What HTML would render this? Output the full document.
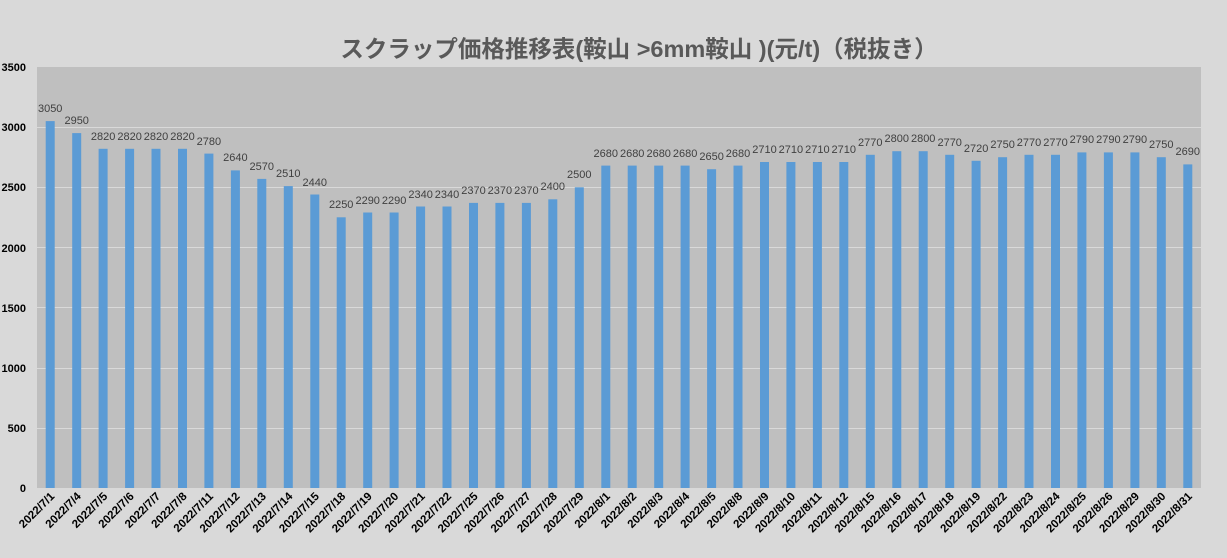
<!DOCTYPE html>
<html><head><meta charset="utf-8"><style>
html,body{margin:0;padding:0;background:#d9d9d9;}
svg{display:block;font-family:"Liberation Sans","Noto Sans CJK JP",sans-serif;}
.v{font-size:11px;fill:#404040;text-anchor:middle;}
.d{font-size:11.5px;font-weight:bold;fill:#000;text-anchor:end;}
.y{font-size:11px;font-weight:bold;fill:#000;text-anchor:end;}
</style></head><body>
<svg width="1227" height="558" viewBox="0 0 1227 558">
<rect width="1227" height="558" fill="#d9d9d9"/>
<text x="639" y="57" text-anchor="middle" font-size="23.5" font-weight="bold" fill="#595959" font-family="'Liberation Sans','Noto Sans CJK JP',sans-serif">スクラップ価格推移表(鞍山 &gt;6mm鞍山 )(元/t)（税抜き）</text>
<rect x="37" y="67" width="1164" height="421" fill="#bfbfbf"/>
<g stroke="#d9d9d9" stroke-width="1">
<line x1="37" x2="1201" y1="127.5" y2="127.5"/><line x1="37" x2="1201" y1="187.5" y2="187.5"/><line x1="37" x2="1201" y1="247.5" y2="247.5"/><line x1="37" x2="1201" y1="307.5" y2="307.5"/><line x1="37" x2="1201" y1="368.5" y2="368.5"/><line x1="37" x2="1201" y1="428.5" y2="428.5"/>
</g>
<g class="y">
<text x="26" y="71" class="y">3500</text><text x="26" y="131" class="y">3000</text><text x="26" y="191" class="y">2500</text><text x="26" y="252" class="y">2000</text><text x="26" y="312" class="y">1500</text><text x="26" y="372" class="y">1000</text><text x="26" y="432" class="y">500</text><text x="26" y="492" class="y">0</text>
</g>
<g fill="#5b9bd5">
<rect x="45.7" y="121.1" width="9" height="366.9"/>
<rect x="72.2" y="133.1" width="9" height="354.9"/>
<rect x="98.6" y="148.8" width="9" height="339.2"/>
<rect x="125.1" y="148.8" width="9" height="339.2"/>
<rect x="151.5" y="148.8" width="9" height="339.2"/>
<rect x="178.0" y="148.8" width="9" height="339.2"/>
<rect x="204.4" y="153.6" width="9" height="334.4"/>
<rect x="230.9" y="170.4" width="9" height="317.6"/>
<rect x="257.3" y="178.9" width="9" height="309.1"/>
<rect x="283.8" y="186.1" width="9" height="301.9"/>
<rect x="310.3" y="194.5" width="9" height="293.5"/>
<rect x="336.7" y="217.3" width="9" height="270.7"/>
<rect x="363.2" y="212.5" width="9" height="275.5"/>
<rect x="389.6" y="212.5" width="9" height="275.5"/>
<rect x="416.1" y="206.5" width="9" height="281.5"/>
<rect x="442.5" y="206.5" width="9" height="281.5"/>
<rect x="469.0" y="202.9" width="9" height="285.1"/>
<rect x="495.4" y="202.9" width="9" height="285.1"/>
<rect x="521.9" y="202.9" width="9" height="285.1"/>
<rect x="548.3" y="199.3" width="9" height="288.7"/>
<rect x="574.8" y="187.3" width="9" height="300.7"/>
<rect x="601.3" y="165.6" width="9" height="322.4"/>
<rect x="627.7" y="165.6" width="9" height="322.4"/>
<rect x="654.2" y="165.6" width="9" height="322.4"/>
<rect x="680.6" y="165.6" width="9" height="322.4"/>
<rect x="707.1" y="169.2" width="9" height="318.8"/>
<rect x="733.5" y="165.6" width="9" height="322.4"/>
<rect x="760.0" y="162.0" width="9" height="326.0"/>
<rect x="786.4" y="162.0" width="9" height="326.0"/>
<rect x="812.9" y="162.0" width="9" height="326.0"/>
<rect x="839.3" y="162.0" width="9" height="326.0"/>
<rect x="865.8" y="154.8" width="9" height="333.2"/>
<rect x="892.3" y="151.2" width="9" height="336.8"/>
<rect x="918.7" y="151.2" width="9" height="336.8"/>
<rect x="945.2" y="154.8" width="9" height="333.2"/>
<rect x="971.6" y="160.8" width="9" height="327.2"/>
<rect x="998.1" y="157.2" width="9" height="330.8"/>
<rect x="1024.5" y="154.8" width="9" height="333.2"/>
<rect x="1051.0" y="154.8" width="9" height="333.2"/>
<rect x="1077.4" y="152.4" width="9" height="335.6"/>
<rect x="1103.9" y="152.4" width="9" height="335.6"/>
<rect x="1130.4" y="152.4" width="9" height="335.6"/>
<rect x="1156.8" y="157.2" width="9" height="330.8"/>
<rect x="1183.3" y="164.4" width="9" height="323.6"/>
</g>
<g>
<text class="v" x="50.2" y="112">3050</text>
<text class="v" x="76.7" y="124">2950</text>
<text class="v" x="103.1" y="140">2820</text>
<text class="v" x="129.6" y="140">2820</text>
<text class="v" x="156.0" y="140">2820</text>
<text class="v" x="182.5" y="140">2820</text>
<text class="v" x="208.9" y="145">2780</text>
<text class="v" x="235.4" y="161">2640</text>
<text class="v" x="261.8" y="170">2570</text>
<text class="v" x="288.3" y="177">2510</text>
<text class="v" x="314.8" y="186">2440</text>
<text class="v" x="341.2" y="208">2250</text>
<text class="v" x="367.7" y="204">2290</text>
<text class="v" x="394.1" y="204">2290</text>
<text class="v" x="420.6" y="198">2340</text>
<text class="v" x="447.0" y="198">2340</text>
<text class="v" x="473.5" y="194">2370</text>
<text class="v" x="499.9" y="194">2370</text>
<text class="v" x="526.4" y="194">2370</text>
<text class="v" x="552.8" y="190">2400</text>
<text class="v" x="579.3" y="178">2500</text>
<text class="v" x="605.8" y="157">2680</text>
<text class="v" x="632.2" y="157">2680</text>
<text class="v" x="658.7" y="157">2680</text>
<text class="v" x="685.1" y="157">2680</text>
<text class="v" x="711.6" y="160">2650</text>
<text class="v" x="738.0" y="157">2680</text>
<text class="v" x="764.5" y="153">2710</text>
<text class="v" x="790.9" y="153">2710</text>
<text class="v" x="817.4" y="153">2710</text>
<text class="v" x="843.8" y="153">2710</text>
<text class="v" x="870.3" y="146">2770</text>
<text class="v" x="896.8" y="142">2800</text>
<text class="v" x="923.2" y="142">2800</text>
<text class="v" x="949.7" y="146">2770</text>
<text class="v" x="976.1" y="152">2720</text>
<text class="v" x="1002.6" y="148">2750</text>
<text class="v" x="1029.0" y="146">2770</text>
<text class="v" x="1055.5" y="146">2770</text>
<text class="v" x="1081.9" y="143">2790</text>
<text class="v" x="1108.4" y="143">2790</text>
<text class="v" x="1134.9" y="143">2790</text>
<text class="v" x="1161.3" y="148">2750</text>
<text class="v" x="1187.8" y="155">2690</text>
</g>
<g>
<text class="d" transform="translate(55.2,497) rotate(-45)">2022/7/1</text>
<text class="d" transform="translate(81.7,497) rotate(-45)">2022/7/4</text>
<text class="d" transform="translate(108.1,497) rotate(-45)">2022/7/5</text>
<text class="d" transform="translate(134.6,497) rotate(-45)">2022/7/6</text>
<text class="d" transform="translate(161.0,497) rotate(-45)">2022/7/7</text>
<text class="d" transform="translate(187.5,497) rotate(-45)">2022/7/8</text>
<text class="d" transform="translate(213.9,497) rotate(-45)">2022/7/11</text>
<text class="d" transform="translate(240.4,497) rotate(-45)">2022/7/12</text>
<text class="d" transform="translate(266.8,497) rotate(-45)">2022/7/13</text>
<text class="d" transform="translate(293.3,497) rotate(-45)">2022/7/14</text>
<text class="d" transform="translate(319.8,497) rotate(-45)">2022/7/15</text>
<text class="d" transform="translate(346.2,497) rotate(-45)">2022/7/18</text>
<text class="d" transform="translate(372.7,497) rotate(-45)">2022/7/19</text>
<text class="d" transform="translate(399.1,497) rotate(-45)">2022/7/20</text>
<text class="d" transform="translate(425.6,497) rotate(-45)">2022/7/21</text>
<text class="d" transform="translate(452.0,497) rotate(-45)">2022/7/22</text>
<text class="d" transform="translate(478.5,497) rotate(-45)">2022/7/25</text>
<text class="d" transform="translate(504.9,497) rotate(-45)">2022/7/26</text>
<text class="d" transform="translate(531.4,497) rotate(-45)">2022/7/27</text>
<text class="d" transform="translate(557.8,497) rotate(-45)">2022/7/28</text>
<text class="d" transform="translate(584.3,497) rotate(-45)">2022/7/29</text>
<text class="d" transform="translate(610.8,497) rotate(-45)">2022/8/1</text>
<text class="d" transform="translate(637.2,497) rotate(-45)">2022/8/2</text>
<text class="d" transform="translate(663.7,497) rotate(-45)">2022/8/3</text>
<text class="d" transform="translate(690.1,497) rotate(-45)">2022/8/4</text>
<text class="d" transform="translate(716.6,497) rotate(-45)">2022/8/5</text>
<text class="d" transform="translate(743.0,497) rotate(-45)">2022/8/8</text>
<text class="d" transform="translate(769.5,497) rotate(-45)">2022/8/9</text>
<text class="d" transform="translate(795.9,497) rotate(-45)">2022/8/10</text>
<text class="d" transform="translate(822.4,497) rotate(-45)">2022/8/11</text>
<text class="d" transform="translate(848.8,497) rotate(-45)">2022/8/12</text>
<text class="d" transform="translate(875.3,497) rotate(-45)">2022/8/15</text>
<text class="d" transform="translate(901.8,497) rotate(-45)">2022/8/16</text>
<text class="d" transform="translate(928.2,497) rotate(-45)">2022/8/17</text>
<text class="d" transform="translate(954.7,497) rotate(-45)">2022/8/18</text>
<text class="d" transform="translate(981.1,497) rotate(-45)">2022/8/19</text>
<text class="d" transform="translate(1007.6,497) rotate(-45)">2022/8/22</text>
<text class="d" transform="translate(1034.0,497) rotate(-45)">2022/8/23</text>
<text class="d" transform="translate(1060.5,497) rotate(-45)">2022/8/24</text>
<text class="d" transform="translate(1086.9,497) rotate(-45)">2022/8/25</text>
<text class="d" transform="translate(1113.4,497) rotate(-45)">2022/8/26</text>
<text class="d" transform="translate(1139.9,497) rotate(-45)">2022/8/29</text>
<text class="d" transform="translate(1166.3,497) rotate(-45)">2022/8/30</text>
<text class="d" transform="translate(1192.8,497) rotate(-45)">2022/8/31</text>
</g>
</svg>
</body></html>
